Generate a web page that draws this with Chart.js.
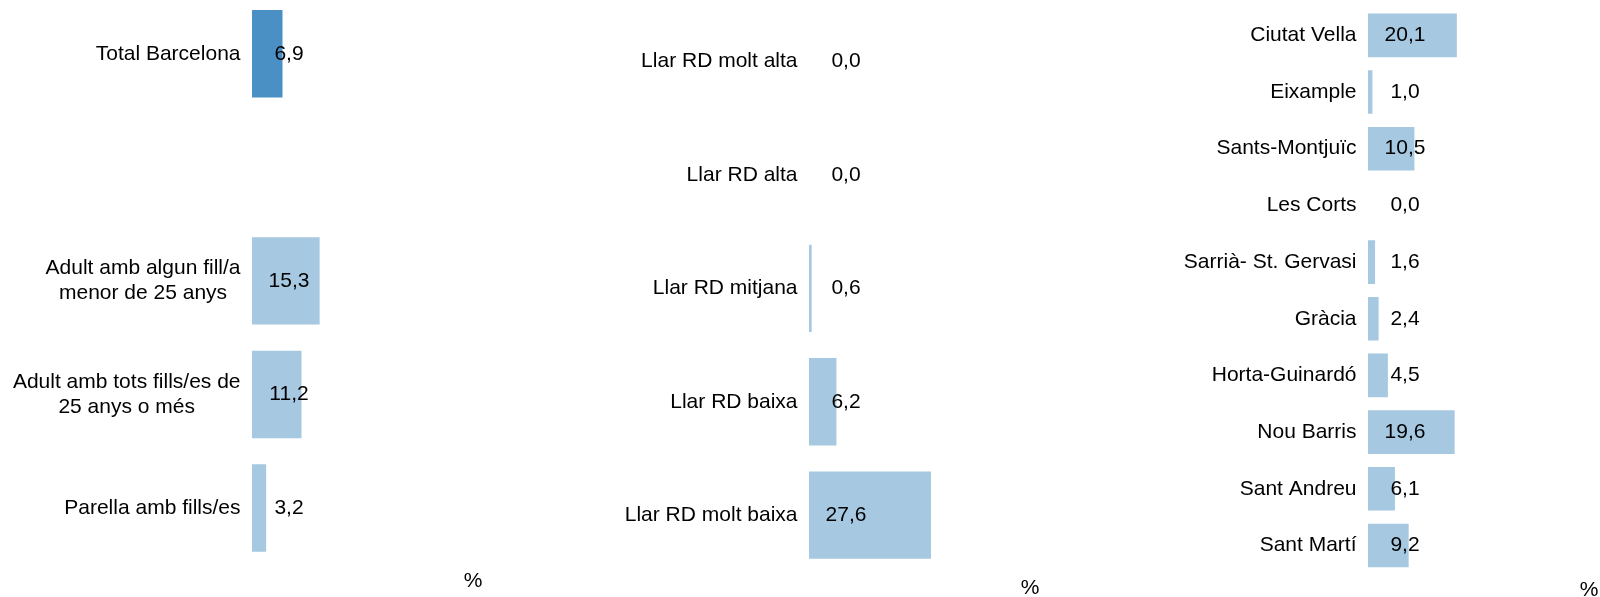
<!DOCTYPE html>
<html lang="ca">
<head>
<meta charset="utf-8">
<title>Llars amb privació</title>
<script src="https://cdn.jsdelivr.net/npm/chart.js@4.4.1/dist/chart.umd.min.js"></script>
<style>
    html, body { margin: 0; padding: 0; background: #fff; overflow: hidden; }
    #wrap { position: relative; width: 1600px; height: 597px; overflow: hidden; }
    #wrap canvas { position: absolute; }
</style>
</head>
<body>
<div id="wrap">
    <canvas id="chartLlar" width="694" height="597" style="left:0;top:-3px"></canvas>
    <canvas id="chartRenda" width="651" height="596" style="left:600px;top:5px"></canvas>
    <canvas id="chartDistricte" width="660" height="596" style="left:1150px;top:7px"></canvas>
</div>
<script>
// tipus de llar
const llarLabels = [
    'Total Barcelona',
    '',
    ['Adult amb algun fill/a', 'menor de 25 anys'],
    ['Adult amb tots fills/es de', '25 anys o més'],
    'Parella amb fills/es'
];
const llarValues = [6.9, null, 15.3, 11.2, 3.2];

// renda disponible
const rendaLabels = ['Llar RD molt alta', 'Llar RD alta', 'Llar RD mitjana', 'Llar RD baixa', 'Llar RD molt baixa'];
const rendaValues = [0.0, 0.0, 0.6, 6.2, 27.6];

// districtes
const districteLabels = ['Ciutat Vella', 'Eixample', 'Sants-Montjuïc', 'Les Corts', 'Sarrià- St. Gervasi',
    'Gràcia', 'Horta-Guinardó', 'Nou Barris', 'Sant Andreu', 'Sant Martí'];
const districteValues = [20.1, 1.0, 10.5, 0.0, 1.6, 2.4, 4.5, 19.6, 6.1, 9.2];

const FONT_FAMILY = '"Liberation Sans", Arial, sans-serif';
const FONT_SIZE = 21;
const LINE_H = FONT_SIZE * 1.2;
const DARK = '#4A90C4';
const LIGHT = '#A6C8E1';

// etiquetes de categoria i valors
const etiquetes = {
    id: 'etiquetes',
    afterDatasetsDraw(chart) {
        const ctx = chart.ctx;
        const xs = chart.scales.x;
        const ys = chart.scales.y;
        const base = xs.getPixelForValue(0);
        ctx.save();
        ctx.font = FONT_SIZE + 'px ' + FONT_FAMILY;
        ctx.fillStyle = '#000';
        ctx.textBaseline = 'middle';
        ctx.textAlign = 'center';

        chart.data.labels.forEach((lab, i) => {
            const lines = Array.isArray(lab) ? lab : [lab];
            if (!lines[0]) return;
            const y = ys.getPixelForTick(i);
            const w = Math.max(...lines.map(l => ctx.measureText(l).width));
            const cx = base - 11.5 - w / 2;
            lines.forEach((l, k) => {
                ctx.fillText(l, cx, y + (k - (lines.length - 1) / 2) * LINE_H);
            });
        });

        chart.data.datasets[0].data.forEach((v, i) => {
            if (v === null) return;
            const y = ys.getPixelForTick(i);
            ctx.fillText(v.toFixed(1).replace('.', ','), base + 37, y);
        });
        ctx.restore();
    }
};

function makeChart(id, labels, values, axisWidth, colorFn) {
    return new Chart(document.getElementById(id), {
        type: 'bar',
        data: {
            labels: labels,
            datasets: [{
                data: values,
                backgroundColor: colorFn,
                borderWidth: 0,
                categoryPercentage: 1,
                barPercentage: 0.77
            }]
        },
        options: {
            indexAxis: 'y',
            responsive: false,
            animation: false,
            devicePixelRatio: 1,
            layout: { padding: 0 },
            plugins: { legend: { display: false }, tooltip: { enabled: false } },
            scales: {
                x: {
                    min: 0,
                    max: 100,
                    ticks: { display: false },
                    grid: { display: false, drawTicks: false },
                    border: { display: false },
                    title: {
                        display: true,
                        text: '%',
                        color: '#000',
                        font: { family: FONT_FAMILY, size: FONT_SIZE, lineHeight: 1.2 },
                        padding: { top: 4, bottom: 0 }
                    }
                },
                y: {
                    ticks: { display: false },
                    grid: { display: false, drawTicks: false },
                    border: { display: false },
                    afterFit(scale) { scale.width = axisWidth; }
                }
            }
        },
        plugins: [etiquetes]
    });
}

makeChart('chartLlar', llarLabels, llarValues, 252, c => c.dataIndex === 0 ? DARK : LIGHT);
makeChart('chartRenda', rendaLabels, rendaValues, 209, LIGHT);
makeChart('chartDistricte', districteLabels, districteValues, 218, LIGHT);
</script>
</body>
</html>
